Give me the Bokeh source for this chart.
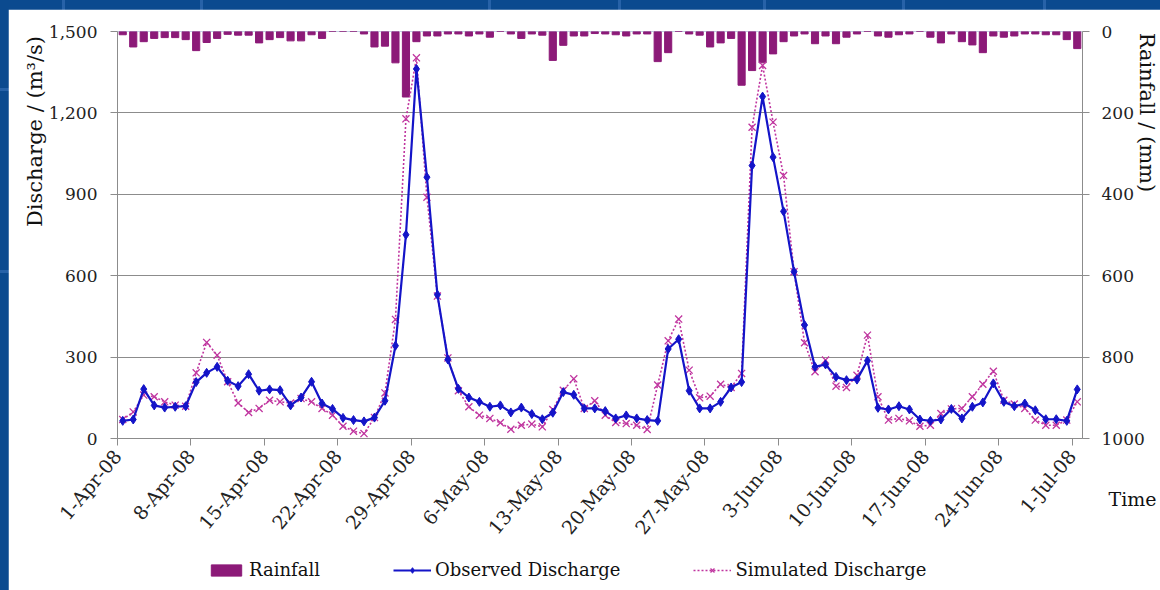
import math
import numpy as np
from bokeh.plotting import figure
from bokeh.models import (Range1d, LinearAxis, FixedTicker, NumeralTickFormatter,
                          Legend, LegendItem)
from bokeh.layouts import column
from bokeh.embed import file_html
from bokeh.resources import INLINE
from bokeh.core.properties import value

# Daily series, 1-Apr-08 .. 1-Jul-08
rainfall = [8, 38, 25, 17, 15, 15, 20, 47, 27, 17, 7, 9, 9, 28, 20, 15, 23, 23, 8, 17,
            0, 0, 0, 6, 38, 36, 77, 161, 25, 11, 11, 6, 6, 11, 6, 14, 0, 6, 17, 6,
            9, 71, 34, 11, 11, 5, 6, 8, 11, 6, 6, 74, 52, 0, 6, 9, 38, 28, 17, 132,
            96, 77, 55, 25, 11, 6, 30, 11, 30, 14, 6, 0, 11, 14, 8, 6, 0, 14, 28, 6,
            25, 33, 52, 11, 14, 11, 6, 6, 8, 8, 20, 42]
observed = [65, 70, 182, 122, 114, 117, 119, 208, 242, 264, 213, 193, 237, 176, 181, 178, 122, 151, 209, 129,
            109, 76, 68, 63, 77, 139, 342, 751, 1362, 963, 530, 291, 183, 151, 135, 117, 122, 96, 114, 90,
            71, 95, 171, 161, 111, 111, 101, 74, 85, 74, 68, 65, 330, 366, 176, 111, 111, 135, 188, 208,
            1006, 1260, 1037, 837, 615, 418, 264, 273, 227, 215, 217, 287, 113, 107, 119, 107, 70, 65, 70, 109,
            74, 117, 133, 203, 135, 119, 129, 104, 71, 71, 65, 181]
simulated = [70, 98, 160, 154, 135, 123, 119, 242, 354, 307, 209, 131, 96, 111, 141, 135, 131, 147, 135, 111,
             86, 45, 27, 18, 77, 168, 439, 1178, 1403, 889, 525, 297, 176, 117, 86, 74, 58, 34, 49, 53,
             43, 107, 178, 220, 111, 139, 86, 59, 55, 49, 33, 197, 360, 440, 252, 150, 156, 200, 188, 240,
             1147, 1375, 1166, 969, 615, 353, 246, 289, 193, 188, 233, 381, 154, 68, 74, 65, 45, 49, 92, 109,
             111, 154, 200, 248, 141, 127, 111, 68, 49, 49, 68, 135]
date_ticks = ["1-Apr-08", "8-Apr-08", "15-Apr-08", "22-Apr-08", "29-Apr-08", "6-May-08", "13-May-08",
              "20-May-08", "27-May-08", "3-Jun-08", "10-Jun-08", "17-Jun-08", "24-Jun-08", "1-Jul-08"]
discharge_ticks = [0, 300, 600, 900, 1200, 1500]
rain_ticks = [0, 200, 400, 600, 800, 1000]

n = len(observed)
x = np.arange(n) + 0.5            # centre of each day
tick_pos = [7 * k for k in range(len(date_ticks))]

SERIF = "DejaVu Serif"
GRAY = "#8c8c8c"
PURPLE = "#8c1a78"
BLUE = "#1414c8"
PINK = "#c0359f"
SLIDE_BLUE = "#0b4a8f"
SLIDE_LINE = "#2762a8"
TXT = "#111111"

PAGE_W, PAGE_H = 1160, 590
W, H = 1152, 581
FRAME_L, FRAME_R, FRAME_T, FRAME_B = 109, 1074, 22, 429

p = figure(width=W, height=H, x_range=Range1d(0, n), y_range=Range1d(0, 1500),
           output_backend="svg", toolbar_location=None,
           min_border_left=FRAME_L, min_border_right=W - FRAME_R,
           min_border_top=FRAME_T, min_border_bottom=H - FRAME_B)
p.frame_align = False
p.margin = (PAGE_H - H, 0, 0, PAGE_W - W)
p.outline_line_color = None
p.background_fill_color = "white"
p.border_fill_color = "white"
p.extra_y_ranges = {"rain": Range1d(start=1000, end=0)}

def style_axis(ax, size="17px"):
    ax.major_label_text_font = SERIF
    ax.major_label_text_font_size = size
    ax.major_label_text_color = "#222222"
    ax.axis_line_color = GRAY
    ax.major_tick_line_color = GRAY
    ax.major_tick_in = 0
    ax.major_tick_out = 7
    ax.minor_tick_line_color = None

# date axis
xa = p.xaxis[0]
style_axis(xa, "19px")
xa.ticker = FixedTicker(ticks=tick_pos)
xa.major_label_overrides = {t: lab for t, lab in zip(tick_pos, date_ticks)}
xa.major_label_orientation = math.radians(50)
xa.major_label_standoff = 7

# discharge axis
ya = p.yaxis[0]
style_axis(ya)
ya.ticker = FixedTicker(ticks=discharge_ticks)
ya.formatter = NumeralTickFormatter(format="0,0")
ya.major_label_standoff = 13

# rainfall axis (inverted)
ra = LinearAxis(y_range_name="rain", ticker=FixedTicker(ticks=rain_ticks))
style_axis(ra)
ra.major_label_standoff = 12
p.add_layout(ra, "right")

p.xgrid.grid_line_color = None
p.ygrid.ticker = FixedTicker(ticks=discharge_ticks)
p.ygrid.grid_line_color = GRAY
p.ygrid.grid_line_width = 1

bar_style = dict(fill_color=PURPLE, line_color=PURPLE)
sim_line_style = dict(line_color=PINK, line_width=1.6, line_dash="2 2")
sim_pt_style = dict(marker="x", size=10, line_color=PINK, line_width=1.3)
obs_line_style = dict(line_color=BLUE, line_width=2.2)
obs_pt_style = dict(marker="diamond", size=9, fill_color=BLUE, line_color=BLUE)

# rainfall hanging from the top, discharge series over it
p.vbar(x=x, top=rainfall, bottom=0, width=0.68, y_range_name="rain", **bar_style)
p.line(x, simulated, **sim_line_style)
p.scatter(x, simulated, **sim_pt_style)
p.line(x, observed, **obs_line_style)
p.scatter(x, observed, **obs_pt_style)

# transparent caption layer over the whole slide (pixel coordinates, origin bottom-left)
ov = figure(width=PAGE_W, height=PAGE_H, x_range=Range1d(0, PAGE_W), y_range=Range1d(0, PAGE_H),
            output_backend="svg", toolbar_location=None,
            x_axis_type=None, y_axis_type=None, min_border=0)
ov.frame_align = False
ov.outline_line_color = None
ov.background_fill_alpha = 0
ov.border_fill_alpha = 0
ov.grid.visible = False
ov.margin = (-PAGE_H, 0, 0, 0)

def caption(px, py, text, angle=0.0, size="21px", align="center"):
    ov.text(x=[px], y=[PAGE_H - py], text=[text], angle=angle,
            text_font=value(SERIF), text_font_size=size,
            text_align=align, text_baseline="middle", text_color=TXT)

caption(34, 131, "Discharge / (m³/s)", angle=math.pi / 2)
caption(1146, 112, "Rainfall / (mm)", angle=-math.pi / 2)
caption(1108, 498, "Time", size="19px", align="left")

# legend swatches: placeholder renderers (NaN, nothing drawn) that carry the styles
nan = [float("nan")]
lg_bar = ov.vbar(x=nan, top=nan, width=1, **bar_style)
lg_obs_line = ov.line(nan, nan, **obs_line_style)
lg_obs_pt = ov.scatter(nan, nan, **obs_pt_style)
lg_sim_line = ov.line(nan, nan, **sim_line_style)
lg_sim_pt = ov.scatter(nan, nan, **sim_pt_style)

legend = Legend(items=[LegendItem(label="Rainfall", renderers=[lg_bar]),
                       LegendItem(label="Observed Discharge", renderers=[lg_obs_line, lg_obs_pt]),
                       LegendItem(label="Simulated Discharge", renderers=[lg_sim_line, lg_sim_pt])],
                location=(207, PAGE_H - 580), orientation="horizontal",
                border_line_color=None, background_fill_alpha=0,
                padding=0, margin=0, spacing=73,
                glyph_width=38, glyph_height=14, label_standoff=4,
                label_text_font=SERIF, label_text_font_size="18px",
                label_text_color=TXT)
ov.add_layout(legend, "center")

# slide backdrop: dark blue with faint lighter panel seams
seams_v = [62, 200, 488, 618, 763, 902, 1043]
seams_h = [88, 270]
grads = [f"linear-gradient(to right, transparent {s}px, {SLIDE_LINE} {s}px, "
         f"{SLIDE_LINE} {s + 3}px, transparent {s + 3}px)" for s in seams_v]
grads += [f"linear-gradient(to bottom, transparent {s}px, {SLIDE_LINE} {s}px, "
          f"{SLIDE_LINE} {s + 3}px, transparent {s + 3}px)" for s in seams_h]
page = column(p, ov, styles={"background-color": SLIDE_BLUE,
                             "background-image": ", ".join(grads)})
open("out.html", "w").write(file_html(page, INLINE))
